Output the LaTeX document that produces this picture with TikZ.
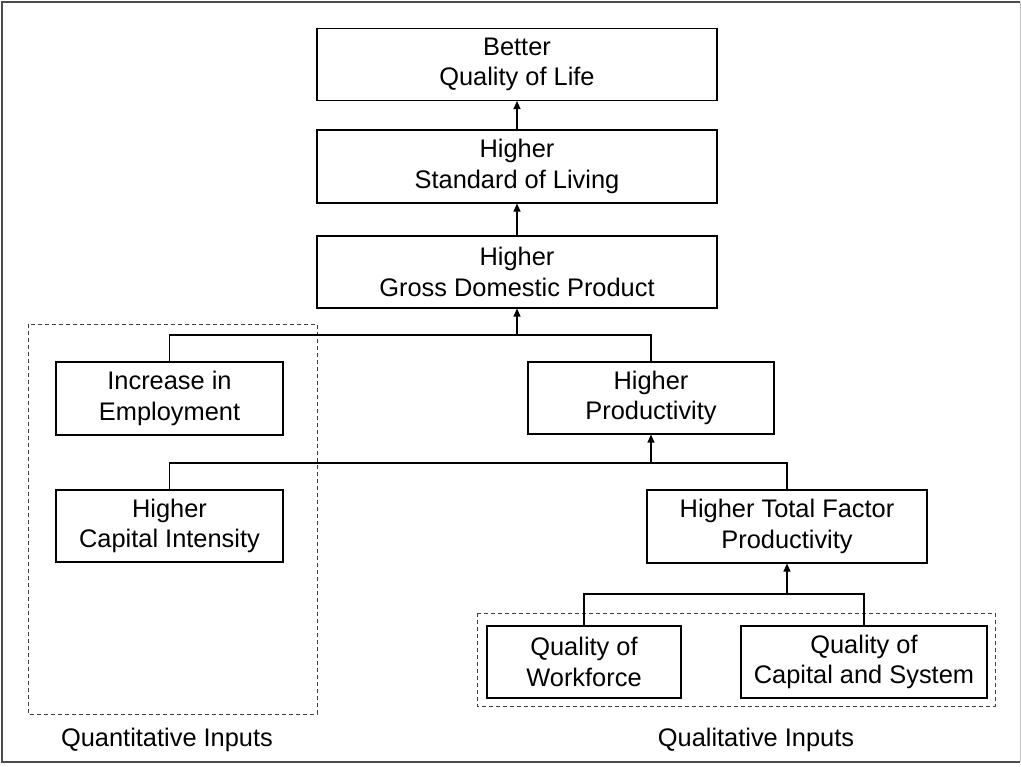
\documentclass[tikz,border=0pt]{standalone}
\usepackage{fontspec}
\setmainfont{Liberation Sans}
\usetikzlibrary{arrows.meta}
\begin{document}
\begin{tikzpicture}[x=1pt,y=-1pt,
  font=\fontsize{25.4}{30.5}\selectfont,
  box/.style={draw=black,line width=1.1pt,align=center,inner sep=0pt},
  link/.style={draw=black,line width=1.1pt},
  up/.style={link,-{Triangle[length=8pt,width=7pt]}},
  group/.style={draw=black!75,line width=0.9pt,dash pattern=on 4pt off 3pt},
  caption/.style={anchor=base}]
\useasboundingbox (0,0) rectangle (1021,767);
% outer frame
\draw[black!70,line width=2pt] (1020,2) -- (2,2) -- (2,762) -- (1020,762);
\draw[black!25,line width=1pt] (1020,2) -- (1020,762);

% group outlines
\draw[group] (28,324) rectangle (317,714);
\draw[group] (477,613) rectangle (995,706);

% boxes
\node[box,minimum width=400pt,minimum height=72pt] (qol) at (517,64.5) {Better\\Quality of Life};
\node[box,minimum width=400pt,minimum height=73pt] (sol) at (517,166.5) {Higher\\Standard of Living};
\node[box,minimum width=400pt,minimum height=72pt] (gdp) at (517,272) {Higher\\Gross Domestic Product};
\node[box,minimum width=227pt,minimum height=73pt] (emp) at (169.5,398.5) {Increase in\\Employment};
\node[box,minimum width=246pt,minimum height=72pt] (prod) at (651,398) {Higher\\Productivity};
\node[box,minimum width=227pt,minimum height=72pt] (cap) at (169.5,526) {Higher\\Capital Intensity};
\node[box,minimum width=280pt,minimum height=73pt] (tfp) at (787,526.5) {Higher Total Factor\\Productivity};
\node[box,minimum width=194pt,minimum height=72pt] (wf) at (584,662) {Quality of\\Workforce};
\node[box,minimum width=246pt,minimum height=72pt] (cs) at (864,662) {Quality of\\Capital and System};

% captions
\node[caption] (quant) at (167,746) {Quantitative Inputs};
\node[caption] (qual) at (756,746) {Qualitative Inputs};

% junction points
\coordinate (j1) at (517,335);
\coordinate (j2) at (651,463);
\coordinate (j3) at (787,594);

% connectors
\draw[up] (sol.north) -- (qol.south);
\draw[up] (gdp.north) -- (sol.south);
\draw[link] (emp.north) |- (j1) -| (prod.north);
\draw[up] (j1) -- (gdp.south);
\draw[link] (cap.north) |- (j2) -| (tfp.north);
\draw[up] (j2) -- (prod.south);
\draw[link] (wf.north) |- (j3) -| (cs.north);
\draw[up] (j3) -- (tfp.south);
\end{tikzpicture}
\end{document}
